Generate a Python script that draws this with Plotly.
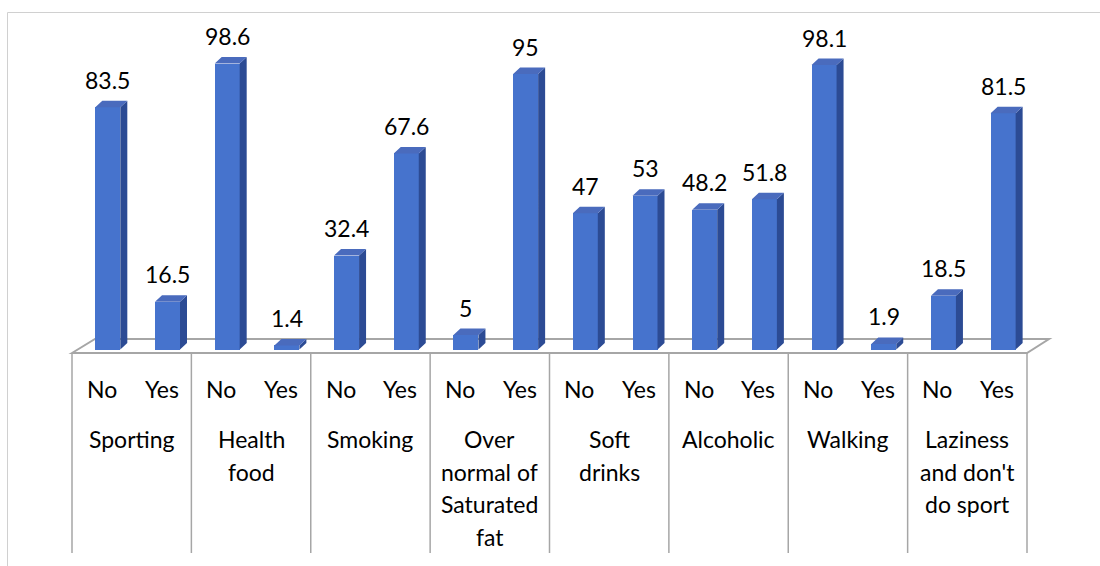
import plotly.graph_objects as go

# ---------------- data ----------------
categories = ["Sporting", "Health<br>food", "Smoking", "Over<br>normal of<br>Saturated<br>fat",
              "Soft<br>drinks", "Alcoholic", "Walking", "Laziness<br>and don't<br>do sport"]
answers = ["No", "Yes"]
no_values = [83.5, 98.6, 32.4, 5, 47, 48.2, 98.1, 18.5]
yes_values = [16.5, 1.4, 67.6, 95, 53, 51.8, 1.9, 81.5]

# ---------------- layout constants ----------------
W, H = 1100, 566
PX_X0 = 72.0            # pixel of x = -0.5
PX_PER_X = 59.6875      # pixels per category slot
PX_Y0 = 349.5           # pixel of y = 0
PX_PER_Y = 2.9          # pixels per unit

def xr(px):
    return -0.5 + (px - PX_X0) / PX_PER_X

def yr(py):
    return (PX_Y0 - py) / PX_PER_Y

x_range = [xr(0), xr(W)]
y_range = [yr(H), yr(0)]

BAR_W = 25 / PX_PER_X
BAR_OFF = 0.1
DX = 7 / PX_PER_X
DY = 6.5 / PX_PER_Y

FRONT = "#4673cd"
SIDE = "#2c4b94"
TOP = "#4a6bbd"
GRID = "#a6a6a6"
FONT = "Lato"
FS = 23

# interleave series
vals, xs, labels = [], [], []
for i in range(len(categories)):
    vals += [no_values[i], yes_values[i]]
    labels += answers
n = len(vals)
xs = [k + BAR_OFF for k in range(n)]

fig = go.Figure()

# front faces
fig.add_trace(go.Bar(x=xs, y=vals, width=BAR_W, base=0,
                     marker=dict(color=FRONT, line=dict(width=0)),
                     hoverinfo="skip", showlegend=False))

# side & top faces derived from values
side_x, side_y, top_x, top_y = [], [], [], []
for x, v in zip(xs, vals):
    xl, xrr = x - BAR_W / 2, x + BAR_W / 2
    side_x += [xrr, xrr + DX, xrr + DX, xrr, xrr, None]
    side_y += [0, DY, v + DY, v, 0, None]
    top_x += [xl, xl + DX, xrr + DX, xrr, xl, None]
    top_y += [v, v + DY, v + DY, v, v, None]

fig.add_trace(go.Scatter(x=side_x, y=side_y, mode="lines", fill="toself",
                         fillcolor=SIDE, line=dict(width=0, color=SIDE),
                         hoverinfo="skip", showlegend=False))
fig.add_trace(go.Scatter(x=top_x, y=top_y, mode="lines", fill="toself",
                         fillcolor=TOP, line=dict(width=0, color=TOP),
                         hoverinfo="skip", showlegend=False))

shapes = []
# floor outline
fl_front = yr(353)
fl_back = yr(339)
floor_path = "M {a},{b} L {c},{d} L {e},{d} L {f},{b} Z".format(
    a=xr(72), b=fl_front, c=xr(95), d=fl_back, e=xr(1049), f=xr(1027))
shapes.append(dict(type="path", path=floor_path, xref="x", yref="y",
                   line=dict(color=GRID, width=2), layer="below"))
# group separators
for g in range(len(categories) + 1):
    xg = -0.5 + 2 * g
    shapes.append(dict(type="line", xref="x", yref="y", x0=xg, x1=xg,
                       y0=fl_front, y1=yr(553), line=dict(color=GRID, width=1.5),
                       layer="below"))
# chart border (cropped)
shapes.append(dict(type="rect", xref="paper", yref="paper",
                   x0=7.5 / W, x1=1.2, y0=-0.2, y1=1 - 12.5 / H,
                   line=dict(color="#d0d0d0", width=1), layer="below"))

annotations = []
# value labels
for x, v in zip(xs, vals):
    annotations.append(dict(x=x, y=v + DY, xref="x", yref="y", text=f"{v:g}",
                            showarrow=False, yanchor="middle", yshift=21,
                            font=dict(family=FONT, size=FS, color="#000000")))
# No / Yes labels
for k, lab in enumerate(labels):
    annotations.append(dict(x=k, y=yr(389), xref="x", yref="y", text=lab,
                            showarrow=False, yanchor="middle",
                            font=dict(family=FONT, size=FS, color="#000000")))
# category labels (one annotation per line)
line_py = [439, 471.5, 504, 536.5]
for i, cat in enumerate(categories):
    for j, line in enumerate(cat.split("<br>")):
        annotations.append(dict(x=2 * i + 0.5, y=yr(line_py[j]), xref="x", yref="y",
                                text=line, showarrow=False, yanchor="middle",
                                font=dict(family=FONT, size=FS, color="#000000")))

fig.update_layout(
    width=W, height=H,
    margin=dict(l=0, r=0, t=0, b=0),
    paper_bgcolor="white", plot_bgcolor="white",
    xaxis=dict(range=x_range, visible=False, fixedrange=True),
    yaxis=dict(range=y_range, visible=False, fixedrange=True),
    shapes=shapes, annotations=annotations,
    bargap=0, showlegend=False,
)

fig.write_html("out.html", config={"displayModeBar": False})
